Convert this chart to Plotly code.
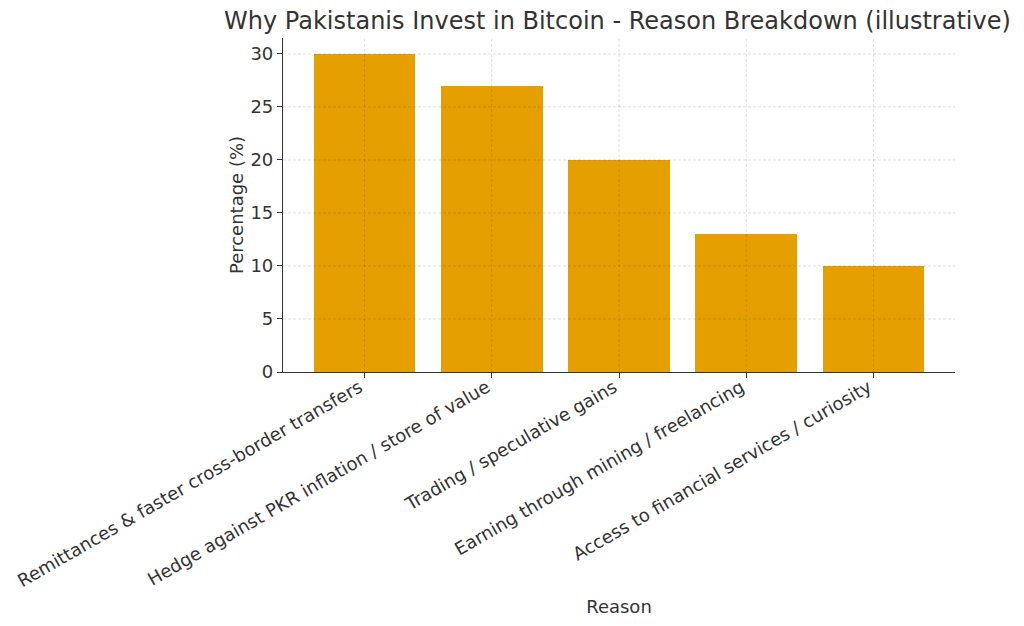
import plotly.graph_objects as go

# Survey breakdown (illustrative)
reasons = [
    "Remittances & faster cross-border transfers",
    "Hedge against PKR inflation / store of value",
    "Trading / speculative gains",
    "Earning through mining / freelancing",
    "Access to financial services / curiosity",
]
percentages = [30, 27, 20, 13, 10]
y_ticks = [0, 5, 10, 15, 20, 25, 30]

TEXT = "#333333"
FONT = "DejaVu Sans"
GRID = "rgba(0,0,0,0.16)"

fig = go.Figure(
    go.Bar(
        x=list(range(len(reasons))),
        y=percentages,
        width=0.8,
        marker=dict(color="#E69F00", line=dict(width=0)),
    )
)

# dashed grid drawn on top of the bars
shapes = []
for t in y_ticks[1:]:
    shapes.append(dict(type="line", xref="paper", yref="y", x0=0, x1=1, y0=t, y1=t,
                       line=dict(color=GRID, width=0.8, dash="3px,2px"), layer="above"))
for i in range(len(reasons)):
    shapes.append(dict(type="line", xref="x", yref="paper", x0=i, x1=i, y0=0, y1=1,
                       line=dict(color=GRID, width=0.8, dash="3px,2px"), layer="above"))

fig.update_layout(
    width=1024,
    height=626,
    margin=dict(l=283, r=69, t=38, b=254),
    plot_bgcolor="white",
    paper_bgcolor="white",
    font=dict(family=FONT, color=TEXT, size=18),
    title=dict(
        text="Why Pakistanis Invest in Bitcoin - Reason Breakdown (illustrative)",
        x=0.603, xanchor="center", y=0.967, yanchor="middle",
        font=dict(size=24, color=TEXT, family=FONT),
    ),
    shapes=shapes,
    showlegend=False,
    bargap=0,
)

fig.update_xaxes(
    range=[-0.64, 4.64],
    tickmode="array",
    tickvals=list(range(len(reasons))),
    ticktext=reasons,
    tickangle=-30,
    ticklabelstandoff=-8,
    ticklabelshift=-5,
    automargin=False,
    showgrid=False,
    showline=True,
    linecolor=TEXT,
    linewidth=1.2,
    ticks="outside",
    ticklen=5,
    tickcolor=TEXT,
    tickfont=dict(size=18, color=TEXT),
    title=dict(text="Reason", font=dict(size=18, color=TEXT), standoff=10),
    zeroline=False,
)
fig.update_yaxes(
    range=[0, 31.5],
    tickmode="array",
    tickvals=y_ticks,
    automargin=False,
    showgrid=False,
    showline=True,
    linecolor=TEXT,
    linewidth=1.2,
    ticks="outside",
    ticklen=5,
    tickcolor=TEXT,
    tickfont=dict(size=18, color=TEXT),
    title=dict(text="Percentage (%)", font=dict(size=18, color=TEXT), standoff=2),
    zeroline=False,
)

fig.write_html("out.html")
